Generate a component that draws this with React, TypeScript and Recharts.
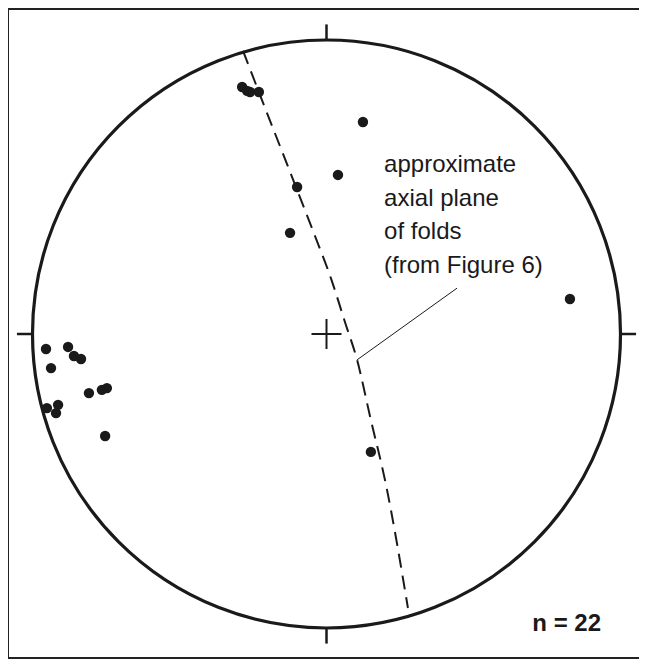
import React from 'react';
import { ComposedChart, Scatter, Line, XAxis, YAxis, ReferenceDot, ReferenceLine } from 'recharts';

// Poles plotted on the stereonet (unit-circle coordinates, x east, y north)
const poleX = [-0.287, -0.27, -0.26, -0.23, 0.124, 0.039, -0.1, -0.124, 0.828, 0.151,
  -0.954, -0.879, -0.859, -0.835, -0.937, -0.808, -0.764, -0.747, -0.951, -0.913, -0.92, -0.753];
const poleY = [0.84, 0.827, 0.823, 0.823, 0.721, 0.541, 0.5, 0.344, 0.119, -0.401,
  -0.051, -0.044, -0.075, -0.085, -0.116, -0.201, -0.19, -0.184, -0.252, -0.241, -0.269, -0.347];

// Approximate axial plane trace (great circle)
const planeX = [-0.284, -0.23, -0.1, -0.039, 0.017, 0.063, 0.104, 0.151, 0.199, 0.277];
const planeY = [0.963, 0.823, 0.49, 0.333, 0.184, 0.04, -0.088, -0.293, -0.497, -0.932];

const labelLines = ['approximate', 'axial plane', 'of folds', '(from Figure 6)'];
const labelLineY = [0.551, 0.437, 0.323, 0.207];
const labelX = 0.196;
const leaderFrom = { x: 0.104, y: -0.088 };
const leaderTo = { x: 0.444, y: 0.156 };
const countLabel = 'n = 22';
const countPos = { x: 0.7, y: -1.01 };

const tickLen = 1.053;
const crossHalf = 0.051;

const poles = poleX.map((x, i) => ({ x, y: poleY[i] }));
const plane = planeX.map((x, i) => ({ x, y: planeY[i] }));

const W = 647;
const H = 661;
const margin = { top: 40, left: 32.5, right: 26.5, bottom: 33 };
const R = (W - margin.left - margin.right) / 2;
const INK = '#1a1a1a';
const FONT = 'Liberation Sans, Arial, sans-serif';

const textShape = (txt: string, size: number, weight: string) => (p: any) => (
  <text x={p.cx} y={p.cy} fontSize={size} fontWeight={weight} fontFamily={FONT} fill={INK}>{txt}</text>
);

export default function App() {
  return (
    <div style={{ position: 'relative', width: W, height: H, marginLeft: -8, marginTop: -8, background: '#fff' }}>
      <div style={{ position: 'absolute', left: 7, top: 8, width: 634, height: 651, border: '2.5px solid #222', boxSizing: 'border-box' }} />
      <div style={{ position: 'absolute', left: 0, top: 0 }}>
        <ComposedChart width={W} height={H} margin={margin}>
          <XAxis type="number" dataKey="x" domain={[-1, 1]} hide allowDataOverflow />
          <YAxis type="number" dataKey="y" domain={[-1, 1]} hide allowDataOverflow />
          <ReferenceDot x={0} y={0} r={R} fill="none" stroke={INK} strokeWidth={3.2} ifOverflow="visible" />
          <ReferenceLine segment={[{ x: 0, y: 1 }, { x: 0, y: tickLen }]} stroke={INK} strokeWidth={2.5} ifOverflow="visible" />
          <ReferenceLine segment={[{ x: 0, y: -1 }, { x: 0, y: -tickLen }]} stroke={INK} strokeWidth={2.5} ifOverflow="visible" />
          <ReferenceLine segment={[{ x: -1, y: 0 }, { x: -tickLen, y: 0 }]} stroke={INK} strokeWidth={2.5} ifOverflow="visible" />
          <ReferenceLine segment={[{ x: 1, y: 0 }, { x: tickLen, y: 0 }]} stroke={INK} strokeWidth={2.5} ifOverflow="visible" />
          <ReferenceLine segment={[{ x: -crossHalf, y: 0 }, { x: crossHalf, y: 0 }]} stroke={INK} strokeWidth={2} ifOverflow="visible" />
          <ReferenceLine segment={[{ x: 0, y: -crossHalf }, { x: 0, y: crossHalf }]} stroke={INK} strokeWidth={2} ifOverflow="visible" />
          <ReferenceLine segment={[leaderFrom, leaderTo]} stroke={INK} strokeWidth={1} ifOverflow="visible" />
          <Line
            data={plane}
            dataKey="y"
            type="monotone"
            isAnimationActive={false}
            stroke={INK}
            strokeWidth={2}
            strokeDasharray="14 8"
            dot={false}
            activeDot={false}
          />
          <Scatter
            data={poles}
            dataKey="y"
            isAnimationActive={false}
            shape={(p: any) => <circle cx={p.cx} cy={p.cy} r={5.2} fill={INK} />}
          />
          {labelLines.map((t, i) => (
            <ReferenceDot key={t} x={labelX} y={labelLineY[i]} r={0} ifOverflow="visible" shape={textShape(t, 24, 'normal')} />
          ))}
          <ReferenceDot x={countPos.x} y={countPos.y} r={0} ifOverflow="visible" shape={textShape(countLabel, 24, 'bold')} />
        </ComposedChart>
      </div>
    </div>
  );
}
